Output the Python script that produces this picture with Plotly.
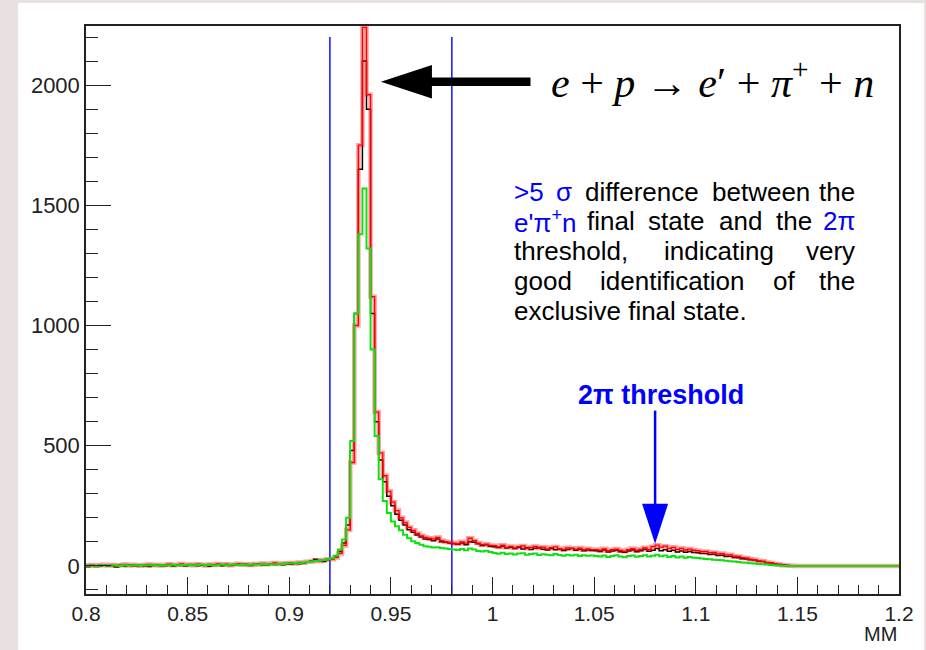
import numpy as np
import plotly.graph_objects as go

# ---------------- data (histogram bin contents, bin width 0.002, 0.8 .. 1.2) ----------------
bin_lo, bin_hi, n_bins = 0.8, 1.2, 200

black_counts = [
    -4, 2, -3, 0, 3, -2, 1, -5, 2, 0, 4, 1, -2, 3, 0, -3, 2, 5, 1, -1, 3, 0, 4, 2, -1,
    5, 3, 1, 4, 2, -2, 3, 6, 1, 4, 2, 5, 3, 7, 4, 2, 6, 8, 5, 3, 7, 6, 9, 5, 8,
    7, 10, 9, 12, 15, 20, 28, 22, 18, 24,
    30, 38, 60, 95, 170, 480, 1050, 1650, 2100, 1900, 1050, 600, 440, 350, 290,
    250, 215, 190, 170, 150, 140, 128, 120, 112, 110, 105, 112, 100, 98, 95, 92, 90, 95, 88, 100, 98, 92, 85, 88, 82,
    80, 76, 82, 74, 78, 72, 77, 70, 75, 68, 73, 76, 69, 66, 72, 67, 70, 64, 68, 72, 65, 69, 63, 66, 64,
    63, 60, 66, 58, 62, 65, 59, 57, 62, 66, 59, 63, 69, 61, 65, 72, 63, 67, 61, 65, 58, 62, 57, 60, 56,
    55, 51, 52, 47, 48, 43, 44, 39, 40, 35, 34, 30, 29, 25, 24, 19, 18, 13, 12, 8, 6, 4, 2, 1, 0,
    0, 0, 0, 0, 0, 0, 0, 0, 0, 0, 0, 0, 0, 0, 0, 0, 0, 0, 0, 0, 0, 0, 0, 0, 0,
]

red_counts = [
    2, 4, 1, 3, 5, 2, 4, 1, 3, 6, 2, 5, 3, 1, 4, 6, 3, 5, 2, 4, 7, 3, 5, 8, 4,
    6, 3, 7, 5, 2, 6, 4, 8, 5, 7, 3, 6, 9, 5, 7, 4, 8, 6, 10, 7, 9, 12, 8, 10, 11,
    12, 10, 14, 13, 17, 18, 22, 20, 24, 28,
    28, 35, 52, 85, 150, 430, 1000, 1750, 2240, 1960, 1120, 640, 470, 375, 310,
    265, 230, 200, 180, 160, 148, 135, 125, 118, 115, 112, 118, 105, 100, 98, 95, 92, 100, 95, 115, 105, 95, 88, 90, 85,
    84, 79, 86, 77, 81, 75, 80, 83, 73, 77, 81, 74, 78, 71, 76, 79, 72, 69, 75, 73, 70, 74, 67, 71, 68,
    68, 65, 71, 63, 67, 70, 64, 61, 67, 72, 65, 69, 75, 68, 80, 86, 78, 82, 73, 77, 69, 73, 66, 70, 65,
    63, 59, 60, 55, 56, 50, 51, 46, 46, 40, 39, 34, 33, 28, 26, 21, 19, 14, 12, 8, 6, 3, 2, 1, 0,
    0, 0, 0, 0, 0, 0, 0, 0, 0, 0, 0, 0, 0, 0, 0, 0, 0, 0, 0, 0, 0, 0, 0, 0, 0,
]

green_counts = [
    1, 3, 0, 2, 4, 1, 3, 2, 0, 4, 2, 3, 1, 4, 2, 3, 5, 2, 4, 1, 3, 5, 2, 4, 3,
    5, 2, 4, 6, 3, 5, 2, 4, 6, 3, 5, 7, 4, 6, 3, 5, 7, 6, 8, 5, 7, 6, 9, 8, 10,
    10, 12, 11, 14, 16, 18, 20, 22, 24, 27,
    32, 42, 68, 110, 200, 520, 1050, 1380, 1570, 1320, 900, 540, 360, 270, 220,
    185, 165, 148, 130, 115, 102, 95, 88, 82, 80, 76, 78, 74, 72, 70, 68, 66, 70, 65, 72, 68, 62, 60, 63, 58,
    54, 50, 55, 49, 52, 47, 51, 53, 46, 49, 51, 45, 48, 46, 44, 49, 45, 42, 46, 43, 46, 41, 44, 42, 43,
    41, 39, 43, 37, 41, 44, 39, 36, 41, 43, 38, 41, 44, 39, 42, 46, 40, 43, 37, 41, 35, 39, 34, 37, 34,
    33, 31, 29, 28, 26, 24, 23, 21, 19, 18, 16, 14, 13, 11, 10, 8, 7, 6, 4, 3, 2, 1, 1, 0, 0,
    0, 0, 0, 0, 0, 0, 0, 0, 0, 0, 0, 0, 0, 0, 0, 0, 0, 0, 0, 0, 0, 0, 0, 0, 0,
]

cut_lines = [0.92, 0.98]
cut_top = 2200
threshold_x = 1.08

x_tick_vals = [0.8, 0.85, 0.9, 0.95, 1.0, 1.05, 1.1, 1.15, 1.2]
x_tick_text = ["0.8", "0.85", "0.9", "0.95", "1", "1.05", "1.1", "1.15", "1.2"]
y_tick_vals = [0, 500, 1000, 1500, 2000]
y_tick_text = ["0", "500", "1000", "1500", "2000"]
y_range = [-117, 2246]

# ---------------- build ----------------
edges = np.linspace(bin_lo, bin_hi, n_bins + 1)


def steps(vals):
    return list(edges), list(vals) + [vals[-1]]


BLUE = "#0000ff"
INK = "#222222"
fig = go.Figure()

for cx in cut_lines:
    fig.add_trace(go.Scatter(x=[cx, cx], y=[y_range[0], cut_top], mode="lines",
                             line=dict(color=BLUE, width=1.4), hoverinfo="skip"))

xs, ys = steps(black_counts)
fig.add_trace(go.Scatter(x=xs, y=ys, mode="lines", line=dict(color="black", width=1.5, shape="hv")))
xs, ys = steps(red_counts)
fig.add_trace(go.Scatter(x=xs, y=ys, mode="lines", line=dict(color="rgba(255,0,0,0.38)", width=4.5, shape="hv")))
fig.add_trace(go.Scatter(x=xs, y=ys, mode="lines", line=dict(color="#ff0000", width=1.3, shape="hv")))
xs, ys = steps(green_counts)
fig.add_trace(go.Scatter(x=xs, y=ys, mode="lines", line=dict(color="#10e010", width=2.0, shape="hv")))

# plot-area geometry in pixels (used only to place annotations in paper coordinates)
L, R, T, B = 86, 901, 26, 594
W, H = R - L, B - T


def px(xp):
    return (xp - L) / W


def py(yp):
    return (B - yp) / H


shapes = [
    dict(type="rect", xref="paper", yref="paper", x0=px(18), x1=px(926), y0=py(650), y1=py(3),
         fillcolor="white", line=dict(width=0), layer="below"),
    # big black arrow pointing to the peak
    dict(type="path", xref="x", yref="y",
         path="M 0.9451 2014 L 0.9702 2084 L 0.9702 2032 L 1.0187 2032 L 1.0187 1996 L 0.9702 1996 L 0.9702 1944 Z",
         fillcolor="black", line=dict(width=0)),
    # blue threshold arrow
    dict(type="line", xref="x", yref="y", x0=threshold_x, x1=threshold_x, y0=646, y1=250,
         line=dict(color=BLUE, width=2.5)),
    dict(type="path", xref="x", yref="y",
         path=f"M {threshold_x - 0.0064} 258 L {threshold_x + 0.0064} 258 L {threshold_x} 92 Z",
         fillcolor=BLUE, line=dict(width=0)),
]

annotations = []
para_font = dict(family="Liberation Sans, Arial, sans-serif", size=26, color="black")


def word(text, xpix, ypix, anchor="left", color="black"):
    f = dict(para_font)
    f["color"] = color
    annotations.append(dict(text=text, x=px(xpix), y=py(ypix), xref="paper", yref="paper",
                            xanchor=anchor, yanchor="middle", showarrow=False, font=f))


line_y = [192, 221, 251, 281, 311]
word(">5", 513, line_y[0], color=BLUE)
word("σ", 555.6, line_y[0], color=BLUE)
word("difference", 584.6, line_y[0])
word("between", 711.7, line_y[0])
word("the", 859, line_y[0], anchor="right")

word("e'π<sup>+</sup>n", 513, line_y[1], color=BLUE)
word("final", 586, line_y[1])
word("state", 647, line_y[1])
word("and", 719, line_y[1])
word("the", 776, line_y[1])
word("2π", 859, line_y[1], anchor="right", color=BLUE)

word("threshold,", 513, line_y[2])
word("indicating", 663.5, line_y[2])
word("very", 859, line_y[2], anchor="right")

word("good", 513, line_y[3])
word("identification", 599.4, line_y[3])
word("of", 772.5, line_y[3])
word("the", 859, line_y[3], anchor="right")

word("exclusive final state.", 513, line_y[4])

annotations.append(dict(text="<b>2π threshold</b>", x=px(662), y=py(395), xref="paper", yref="paper",
                        xanchor="center", yanchor="middle", showarrow=False,
                        font=dict(family="Liberation Sans, Arial, sans-serif", size=27, color=BLUE)))

annotations.append(dict(text="<i>e</i> + <i>p</i> → <i>e</i>′ + <i>π</i><sup>+</sup> + <i>n</i>",
                        x=px(714), y=py(79), xref="paper", yref="paper",
                        xanchor="center", yanchor="middle", showarrow=False,
                        font=dict(family="Liberation Serif, Times New Roman, serif", size=42, color="black")))

annotations.append(dict(text="MM", x=1.0, y=py(634), xref="paper", yref="paper",
                        xanchor="right", yanchor="middle", showarrow=False,
                        font=dict(family="Liberation Sans, Arial, sans-serif", size=20, color=INK)))

x_minor = [round(v, 3) for v in np.arange(0.80, 1.2001, 0.01)]
y_minor = list(range(-100, 2201, 100))

fig.update_layout(
    width=926, height=650,
    margin=dict(l=L, r=926 - R, t=T, b=650 - B),
    paper_bgcolor="#e9e1df", plot_bgcolor="white",
    showlegend=False, shapes=shapes, annotations=annotations,
    font=dict(family="Liberation Sans, Arial, sans-serif", size=22, color=INK),
    xaxis=dict(range=[bin_lo, bin_hi], tickmode="array", tickvals=x_tick_vals, ticktext=x_tick_text,
               ticks="inside", ticklen=17, tickwidth=1, tickcolor=INK,
               showline=True, linecolor=INK, linewidth=1.5, mirror=True,
               showgrid=False, zeroline=False, tickfont=dict(size=21, color=INK),
               minor=dict(tickmode="array", tickvals=x_minor, ticks="inside", ticklen=9,
                          tickcolor=INK, tickwidth=1, showgrid=False)),
    yaxis=dict(range=y_range, tickmode="array", tickvals=y_tick_vals, ticktext=y_tick_text,
               ticks="inside", ticklen=25, tickwidth=1, tickcolor=INK,
               showline=True, linecolor=INK, linewidth=1.5, mirror=True,
               showgrid=False, zeroline=False, tickfont=dict(size=22, color=INK),
               minor=dict(tickmode="array", tickvals=y_minor, ticks="inside", ticklen=12,
                          tickcolor=INK, tickwidth=1, showgrid=False)),
)

fig.write_html("out.html", config={"displayModeBar": False},
               post_script="document.body.style.margin='0px';document.body.style.overflow='hidden';")
